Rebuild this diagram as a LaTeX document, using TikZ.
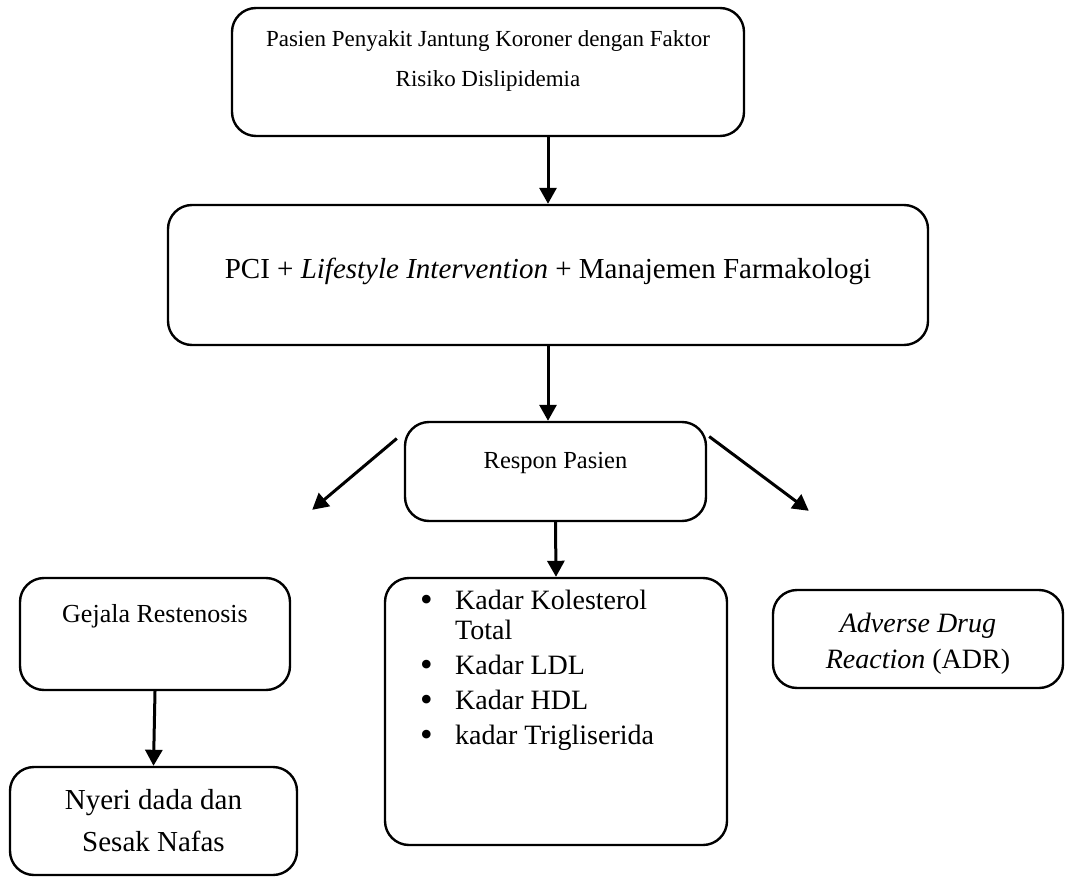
\documentclass[tikz,border=0pt]{standalone}
\usepackage{fontspec}
\setmainfont{Liberation Serif}
\usetikzlibrary{shapes,arrows.meta,positioning,calc}

\newcommand{\blt}{\makebox[35pt][l]{\raisebox{-1.5pt}{\fontsize{36}{36}\selectfont\textbullet}}}

\begin{document}
\begin{tikzpicture}[x=1pt,y=-1pt,
  font=\fontsize{25}{38}\selectfont,
  box/.style={draw,line width=2.4pt,rounded corners=24pt,inner sep=0pt,align=center},
  txt/.style={inner sep=0pt,align=center},
  flow/.style={line width=3pt,-{Triangle[length=16pt,width=17pt]}}]
  \useasboundingbox (0,0) rectangle (1065,877);

  % Main chain
  \node[box,minimum width=512pt,minimum height=128pt] (b1) at (488,72) {};
  \node[txt,font=\fontsize{23}{40}\selectfont] (t1) at (488,61)
    {Pasien Penyakit Jantung Koroner dengan Faktor\\Risiko Dislipidemia};
  \node[box,minimum width=760pt,minimum height=140pt,text depth=14pt,font=\fontsize{29}{38}\selectfont] (b2) at (548,275)
    {PCI + \textit{Lifestyle Intervention} + Manajemen Farmakologi};
  \node[box,minimum width=301pt,minimum height=99pt,text height=18pt,text depth=24pt,font=\fontsize{24.5}{38}\selectfont] (b3) at (555.5,471.5) {Respon Pasien};

  % Responses
  \node[box,minimum width=270pt,minimum height=112pt,text height=18pt,text depth=42pt,font=\fontsize{26}{38}\selectfont] (b4) at (155,634) {Gejala Restenosis};
  \node[box,minimum width=287pt,minimum height=108pt,font=\fontsize{29}{42}\selectfont] (b5) at (153.5,821) {Nyeri dada dan\\Sesak Nafas};
  \node[box,minimum width=342pt,minimum height=267pt] (b6) at (556,711.5) {};
  \node[txt,align=left,anchor=north west,font=\fontsize{28}{35}\selectfont] (t6) at (420,590)
    {\blt Kadar Kolesterol\\[-5pt]
     \hspace*{35pt}Total\\
     \blt Kadar LDL\\
     \blt Kadar HDL\\
     \blt kadar Trigliserida};
  \node[box,minimum width=290pt,minimum height=98pt] (b7) at (918,639) {};
  \node[txt,font=\fontsize{28}{36}\selectfont] (t7) at (918,644)
    {\textit{Adverse Drug}\\\textit{Reaction} (ADR)};

  % Arrows
  \draw[flow] (b2.north |- b1.south) -- (b2.north);
  \draw[flow] (b2.south) -- (b2.south |- b3.north);
  \draw[flow] (b3.south) -- (b6.north);
  \draw[flow] ($(b3.west)+(-7,-33)$) -- ($(b4.north east)+(21,-67)$);
  \draw[flow] ($(b3.east)+(2,-35)$) -- ($(b7.north west)+(37,-78)$);
  \draw[flow] (b4.south) -- (b5.north);
\end{tikzpicture}
\end{document}
